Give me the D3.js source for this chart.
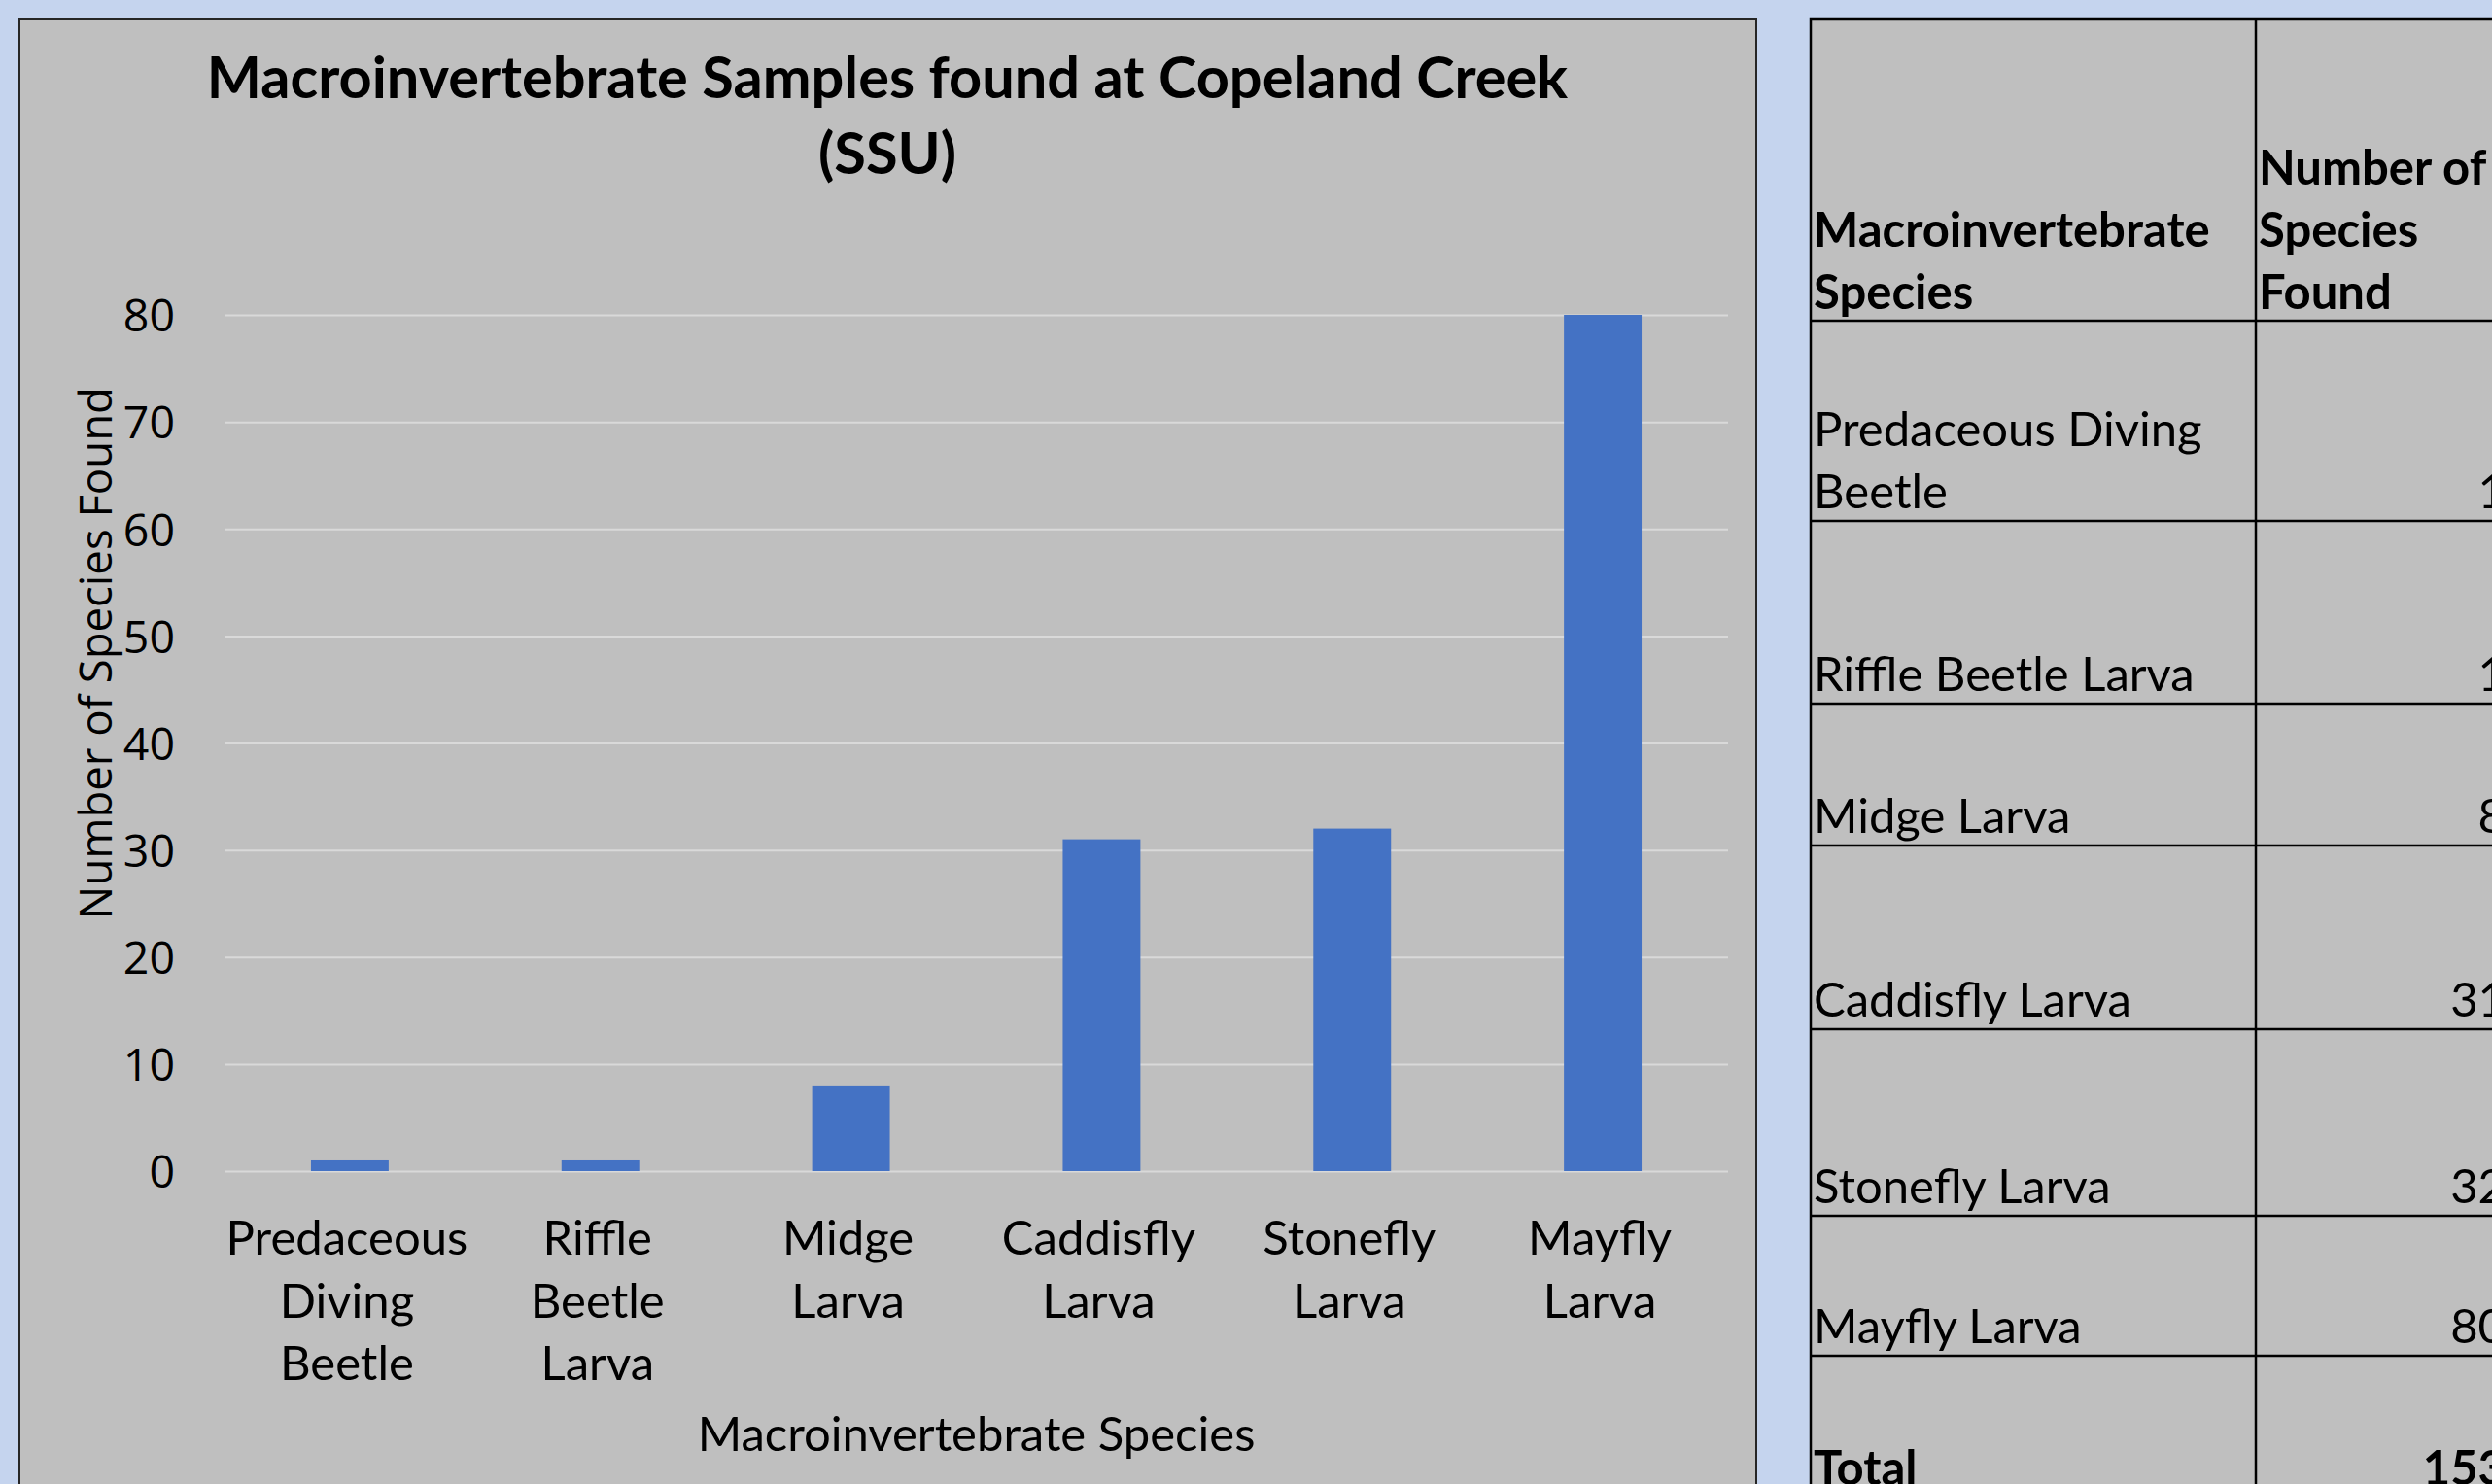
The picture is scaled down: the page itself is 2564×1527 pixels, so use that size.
<!DOCTYPE html>
<html>
<head>
<meta charset="utf-8">
<script src="https://cdn.jsdelivr.net/npm/d3@7"></script>
<style>
  html, body { margin: 0; padding: 0; background: #c5d4ee; overflow: hidden; }
  svg { display: block; }
</style>
</head>
<body>
<script>
// ---- data ----
const categories = ["Predaceous Diving Beetle", "Riffle Beetle Larva", "Midge Larva", "Caddisfly Larva", "Stonefly Larva", "Mayfly Larva"];
const categoryLabelLines = [["Predaceous", "Diving", "Beetle"], ["Riffle", "Beetle", "Larva"], ["Midge", "Larva"], ["Caddisfly", "Larva"], ["Stonefly", "Larva"], ["Mayfly", "Larva"]];
const speciesCounts = [1, 1, 8, 31, 32, 80];
const yTickValues = [0, 10, 20, 30, 40, 50, 60, 70, 80];
const chartTitleLines = ["Macroinvertebrate Samples found at Copeland Creek", "(SSU)"];
const xAxisTitle = "Macroinvertebrate Species";
const yAxisTitle = "Number of Species Found";
const tableHeaderLeft = ["Macroinvertebrate", "Species"];
const tableHeaderRight = ["Number of", "Species", "Found"];
const tableRowLabelLines = [["Predaceous Diving", "Beetle"], ["Riffle Beetle Larva"], ["Midge Larva"], ["Caddisfly Larva"], ["Stonefly Larva"], ["Mayfly Larva"]];
const totalLabel = "Total";
const totalValue = 153;

// ---- layout ----
const W = 2564, H = 1527;
const svg = d3.select("body").append("svg").attr("width", W).attr("height", H);
svg.append("rect").attr("width", W).attr("height", H).attr("fill", "#c5d4ee");

const bodyFont = "Lato, 'Noto Sans', sans-serif";
const axisFont = "'Open Sans', 'Noto Sans', sans-serif";

// chart panel
svg.append("rect").attr("x", 20).attr("y", 20).attr("width", 1787).attr("height", 1540)
  .attr("fill", "#bfbfbf").attr("stroke", "#262626").attr("stroke-width", 2);

const plotLeft = 231, plotRight = 1778, plotTop = 324, plotBottom = 1205;

const x = d3.scaleBand().domain(categories).range([plotLeft, plotRight])
  .paddingInner(0.69).paddingOuter(0.345);
const y = d3.scaleLinear().domain([0, 80]).range([plotBottom, plotTop]);

// gridlines + y ticks
const yAxis = d3.axisLeft(y).tickValues(yTickValues).tickSize(-(plotRight - plotLeft)).tickPadding(51);
const gy = svg.append("g").attr("transform", `translate(${plotLeft},0)`).call(yAxis);
gy.select(".domain").remove();
gy.selectAll(".tick line").attr("stroke", "#d9d9d9").attr("stroke-width", 2);
gy.selectAll(".tick text").attr("font-family", axisFont).attr("font-size", 46.5)
  .attr("fill", "#000").attr("dy", "0.36em");

// bars
svg.append("g").selectAll("rect").data(categories).join("rect")
  .attr("x", d => x(d))
  .attr("y", (d, i) => y(speciesCounts[i]))
  .attr("width", x.bandwidth())
  .attr("height", (d, i) => y(0) - y(speciesCounts[i]))
  .attr("fill", "#4472c4");

// x axis category labels
const xAxis = d3.axisBottom(x).tickSize(0).tickFormat(() => "");
const gx = svg.append("g").attr("transform", `translate(0,${plotBottom})`).call(xAxis);
gx.select(".domain").remove();
gx.selectAll(".tick").each(function(d, i) {
  const t = d3.select(this).append("text")
    .attr("text-anchor", "middle").attr("font-family", bodyFont).attr("font-size", 49)
    .attr("fill", "#000").attr("transform", "translate(-3,0)");
  categoryLabelLines[i].forEach((line, j) => {
    t.append("tspan").attr("x", 0).attr("y", 86 + j * 64.5).text(line);
  });
});

// titles
const title = svg.append("text").attr("text-anchor", "middle")
  .attr("font-family", bodyFont).attr("font-weight", "bold").attr("font-size", 59.5).attr("fill", "#000");
chartTitleLines.forEach((line, j) => {
  title.append("tspan").attr("x", 913).attr("y", 101 + j * 78).text(line);
});

svg.append("text").attr("x", (plotLeft + plotRight) / 2).attr("y", 1493)
  .attr("text-anchor", "middle").attr("font-family", bodyFont).attr("font-size", 49)
  .attr("fill", "#000").text(xAxisTitle);

svg.append("text").attr("transform", `translate(115,672) rotate(-90)`)
  .attr("text-anchor", "middle").attr("font-family", axisFont).attr("font-size", 45.5)
  .attr("fill", "#000").text(yAxisTitle);

// ---- table ----
const tLeft = 1863, tCol = 2321, tRightText = 2578;
const rowLines = [330, 536, 724, 870, 1059, 1251, 1395];
const tbl = svg.append("g");
tbl.append("rect").attr("x", tLeft).attr("y", 20).attr("width", 800).attr("height", 1600)
  .attr("fill", "#bfbfbf").attr("stroke", "#000").attr("stroke-width", 2.5);
tbl.append("line").attr("x1", tCol).attr("x2", tCol).attr("y1", 20).attr("y2", H + 10)
  .attr("stroke", "#000").attr("stroke-width", 2.5);
tbl.selectAll("line.row").data(rowLines).join("line").attr("class", "row")
  .attr("x1", tLeft).attr("x2", W + 10).attr("y1", d => d).attr("y2", d => d)
  .attr("stroke", "#000").attr("stroke-width", 2.5);

const tFont = 49, lineH = 64;
function cellText(lines, xPos, bottomBaseline, anchor, bold) {
  const t = tbl.append("text").attr("font-family", bodyFont).attr("font-size", tFont)
    .attr("font-weight", bold ? "bold" : "normal").attr("text-anchor", anchor).attr("fill", "#000");
  lines.forEach((line, j) => {
    t.append("tspan").attr("x", xPos).attr("y", bottomBaseline - (lines.length - 1 - j) * lineH).text(line);
  });
}
cellText(tableHeaderLeft, tLeft + 3, rowLines[0] - 12, "start", true);
cellText(tableHeaderRight, tCol + 3, rowLines[0] - 12, "start", true);
tableRowLabelLines.forEach((lines, i) => {
  const base = rowLines[i + 1] - 13;
  cellText(lines, tLeft + 3, base, "start", false);
  cellText([String(speciesCounts[i])], tRightText, base, "end", false);
});
cellText([totalLabel], tLeft + 3, 1528, "start", true);
cellText([String(totalValue)], tRightText, 1528, "end", true);
</script>
</body>
</html>
